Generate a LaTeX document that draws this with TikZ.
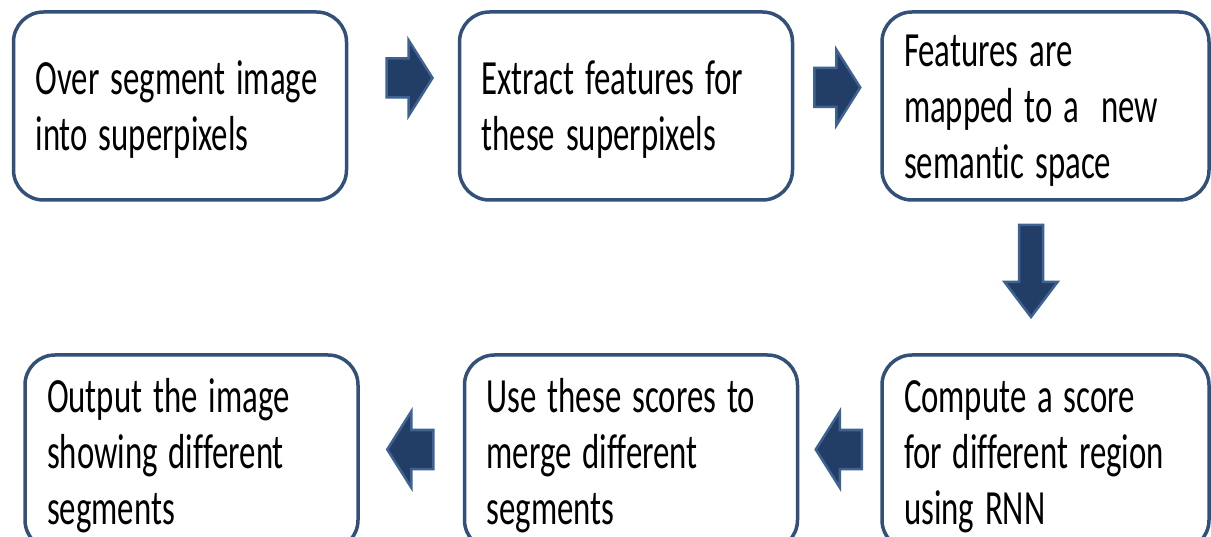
\documentclass[tikz,border=0pt]{standalone}
\usepackage{fontspec}
\setmainfont{Carlito}[Ligatures=CommonOff]
\usetikzlibrary{calc}

\definecolor{boxline}{RGB}{50,80,120}
\definecolor{arrowfill}{RGB}{35,62,102}
\definecolor{arrowline}{RGB}{62,98,146}

% text of a step, stretched upwards like in the slide
\newcommand{\steptext}[1]{\raisebox{-5pt}[\height][\depth]{\scalebox{1}[1.5]{\begin{tabular}{@{}l@{}}#1\end{tabular}}}}

\tikzset{
  stepbox/.style={draw=boxline, line width=3.5pt, rounded corners=30pt,
    text width=289pt, inner xsep=22pt, inner ysep=0pt, align=left,
    font=\fontsize{32.8}{37.3}\selectfont},
  sidearrow/.pic={
    \draw[arrowline, fill=arrowfill, line width=2.5pt, line join=miter]
      (-23,-19.5) -- (-1,-19.5) -- (-1,-38) -- (23,0) -- (-1,38) -- (-1,19.5) -- (-23,19.5) -- cycle;},
  droparrow/.pic={
    \draw[arrowline, fill=arrowfill, line width=2.5pt, line join=miter]
      (-46,-12) -- (11,-12) -- (11,-26.5) -- (46,0) -- (11,26.5) -- (11,12) -- (-46,12) -- cycle;}
}

\begin{document}
\begin{tikzpicture}[x=1pt, y=-1pt]
  \useasboundingbox (0,0) rectangle (1211,537);

  % top row
  \node[stepbox, minimum height=188pt] (over) at (180,106) {\steptext{Over segment image\\into superpixels}};
  \node[stepbox, minimum height=188pt] (extract) at (626,106) {\steptext{Extract features for\\these superpixels}};
  \node[stepbox, minimum height=188pt, text width=283pt] (mapped) at (1045.5,106) {\steptext{Features are\\mapped to a~ new\\semantic space}};

  % bottom row
  \node[stepbox, minimum height=195pt, text width=283pt] (score) at (1045.5,452.5) {\steptext{Compute a score\\for different region\\using RNN}};
  \node[stepbox, minimum height=195pt] (merge) at (631,452.5) {\steptext{Use these scores to\\merge different\\segments}};
  \node[stepbox, minimum height=195pt] (output) at (191.5,452.5) {\steptext{Output the image\\showing different\\segments}};

  % block arrows
  \pic at ($(over.east)!.5!(extract.west)+(6.5,-28)$) {sidearrow};
  \pic at ($(extract.east)!.5!(mapped.west)+(0,-18.5)$) {sidearrow};
  \pic[rotate=-90] at ($(mapped.south)!.5!(score.north)+(-14.5,-6.5)$) {droparrow};
  \pic[rotate=180] at ($(score.west)!.5!(merge.east)+(-1,-3)$) {sidearrow};
  \pic[rotate=180] at ($(merge.west)!.5!(output.east)+(-1,-3)$) {sidearrow};
\end{tikzpicture}
\end{document}
